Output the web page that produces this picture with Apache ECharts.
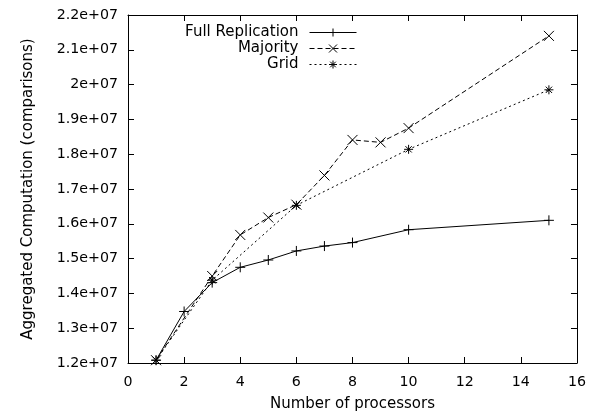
<!DOCTYPE html>
<html><head><meta charset="utf-8">
<script src="https://cdn.jsdelivr.net/npm/echarts@6/dist/echarts.min.js"></script>
<style>html,body{margin:0;padding:0;background:#fff}#c{width:589px;height:417px}</style>
</head><body><div id="c"></div>
<script>
const fullX = [1, 2, 3, 4, 5, 6, 7, 8, 10, 15];
const fullY = [12080000, 13480000, 14310000, 14750000, 14960000, 15220000, 15360000, 15460000, 15830000, 16100000];
const majX = [1, 3, 4, 5, 6, 7, 8, 9, 10, 15];
const majY = [12080000, 14500000, 15680000, 16180000, 16550000, 17390000, 18410000, 18340000, 18750000, 21400000];
const gridX = [1, 3, 6, 10, 15];
const gridY = [12080000, 14380000, 16530000, 18140000, 19850000];
const seriesNames = ['Full Replication', 'Majority', 'Grid'];
const xTicks = {min: 0, max: 16, interval: 2};
const yTicks = {min: 12000000, max: 22000000, interval: 1000000};

const pair = (xs, ys) => xs.map((x, i) => [x, ys[i]]);
const FONT = '"DejaVu Sans", "Liberation Sans", Arial, sans-serif';
const FS = 14.2;
const FT = 15;
const plus = 'path://M0,5 L10,5 M5,0 L5,10';
const cross = 'path://M0,0 L10,10 M10,0 L0,10';
const star = 'path://M0,5 L10,5 M5,0 L5,10 M1.5,1.5 L8.5,8.5 M8.5,1.5 L1.5,8.5';
const fmt = v => (+(v / 1e7).toFixed(2)).toString() + 'e+07';

const tickAxis = (extra) => Object.assign({
  axisLine: {show: true, onZero: false, lineStyle: {color: '#000', width: 1}},
  axisTick: {show: true, inside: true, length: 6, lineStyle: {color: '#000'}},
  splitLine: {show: false}
}, extra);

function mkSeries(name, data, sym, size, dash) {
  return {
    name, type: 'line', data, symbol: sym, symbolSize: size,
    lineStyle: {color: '#000', width: 1, type: dash},
    itemStyle: {color: '#000', borderColor: '#000', borderWidth: 1},
    emphasis: {disabled: true}, animation: false
  };
}

const chart = echarts.init(document.getElementById('c'));
const legendBase = {
  orient: 'vertical', right: 232, itemWidth: 47, itemHeight: 10, itemGap: 6, padding: 0,
  align: 'right', selectedMode: false,
  itemStyle: {borderWidth: 1},
  lineStyle: {width: 1},
  textStyle: {fontFamily: FONT, fontSize: FT, color: '#000', padding: [0, 6, 0, 0]}
};
chart.setOption({
  animation: false,
  grid: {left: 128, right: 11, top: 15, bottom: 50},
  legend: [
    Object.assign({}, legendBase, {top: 25, data: [seriesNames[0]]}),
    Object.assign({}, legendBase, {top: 41, data: [seriesNames[1]]}),
    Object.assign({}, legendBase, {top: 57, data: [seriesNames[2]]})
  ],
  xAxis: [
    tickAxis({type: 'value', min: xTicks.min, max: xTicks.max, interval: xTicks.interval, position: 'bottom',
      name: 'Number of processors', nameLocation: 'middle', nameGap: 34,
      nameTextStyle: {fontFamily: FONT, fontSize: FT, color: '#000'},
      axisLabel: {fontFamily: FONT, fontSize: FS, color: '#000', margin: 12}}),
    tickAxis({type: 'value', min: xTicks.min, max: xTicks.max, interval: xTicks.interval, position: 'top',
      axisLabel: {show: false}})
  ],
  yAxis: [
    tickAxis({type: 'value', min: yTicks.min, max: yTicks.max, interval: yTicks.interval, position: 'left',
      name: 'Aggregated Computation (comparisons)', nameLocation: 'middle', nameGap: 92, nameRotate: 90,
      nameTextStyle: {fontFamily: FONT, fontSize: FT, color: '#000'},
      axisLabel: {fontFamily: FONT, fontSize: FS, color: '#000', margin: 10, formatter: fmt}}),
    tickAxis({type: 'value', min: yTicks.min, max: yTicks.max, interval: yTicks.interval, position: 'right',
      axisLabel: {show: false}})
  ],
  series: [
    mkSeries(seriesNames[0], pair(fullX, fullY), plus, 10, 'solid'),
    mkSeries(seriesNames[1], pair(majX, majY), cross, 10, [5, 3]),
    mkSeries(seriesNames[2], pair(gridX, gridY), star, 9, [2, 3])
  ]
});
</script></body></html>
